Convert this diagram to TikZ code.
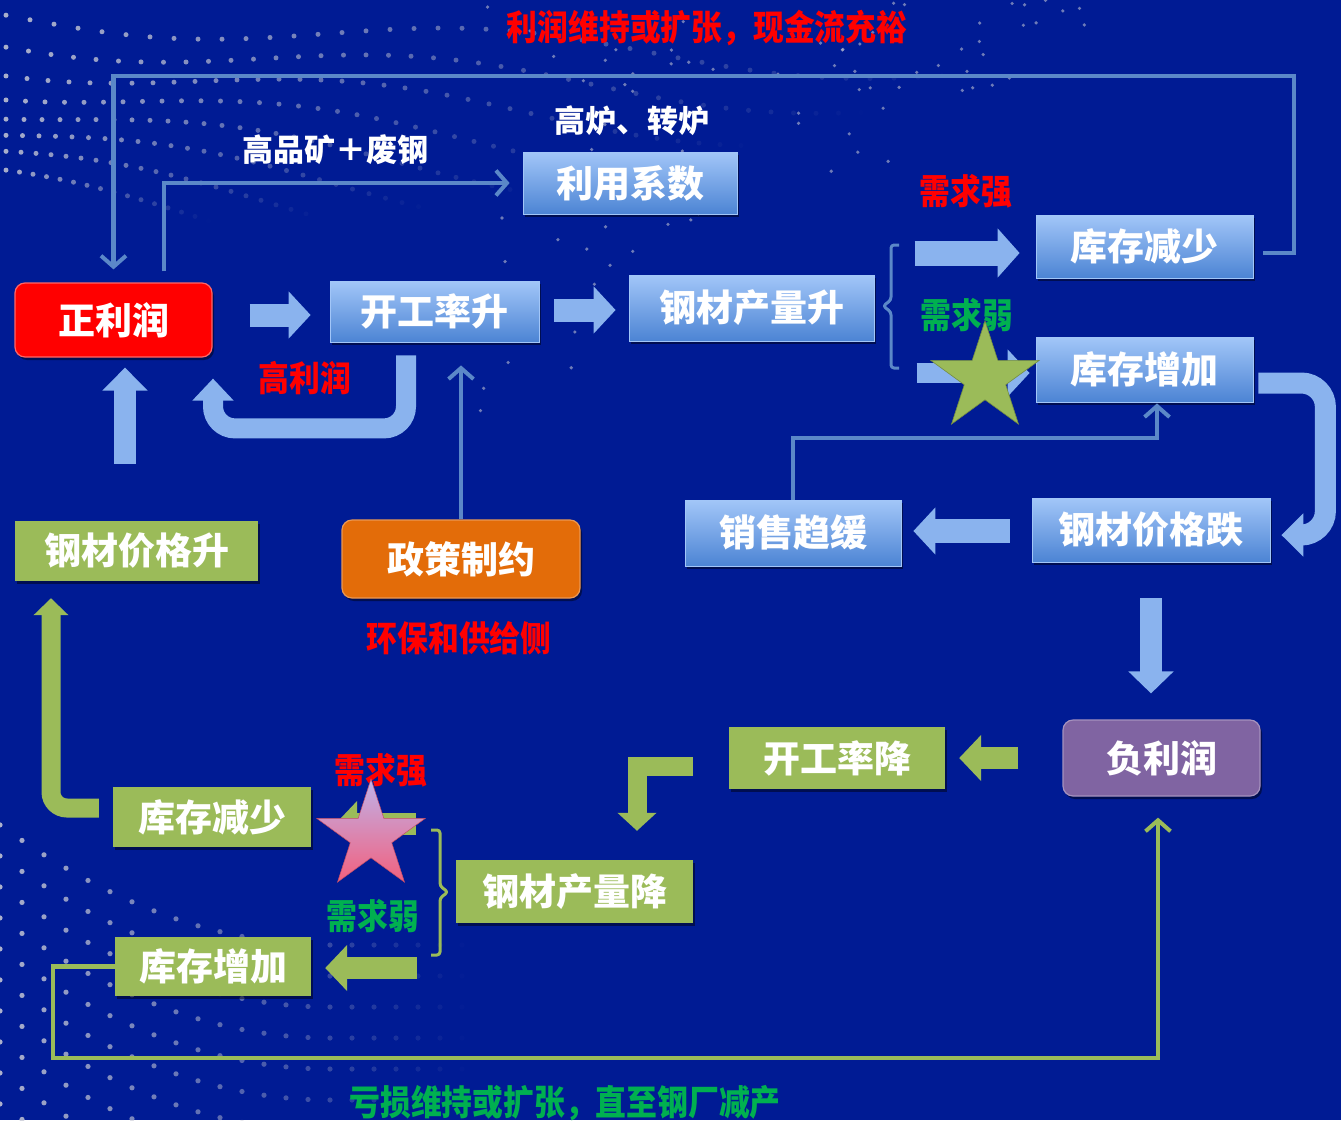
\documentclass[tikz,border=0pt]{standalone}
\usepackage{fontspec}
\setmainfont{Noto Sans CJK SC}
\usetikzlibrary{arrows.meta,shapes.geometric,calc,shadows}

\definecolor{bg}{HTML}{001B94}
\definecolor{dotc}{HTML}{C9CBD6}
\definecolor{linkblue}{HTML}{5B88C8}
\definecolor{bandblue}{HTML}{8AB3EE}
\definecolor{boxtop}{HTML}{A2C6F8}
\definecolor{boxbot}{HTML}{4C84D4}
\definecolor{olive}{HTML}{9BBB59}
\definecolor{posred}{HTML}{FF0000}
\definecolor{negpurple}{HTML}{8064A2}
\definecolor{policy}{HTML}{E36C09}
\definecolor{labred}{HTML}{FF0000}
\definecolor{labgreen}{HTML}{00B050}
\definecolor{startop}{HTML}{BFB2EA}
\definecolor{starbot}{HTML}{F2607E}

% condensed label text
\newcommand{\narrowtext}[1]{\scalebox{0.88}[1]{#1}}

\tikzset{
  box/.style={inner sep=0pt, text=white, font=\fontsize{37}{39}\selectfont\bfseries,
    drop shadow={shadow xshift=2pt, shadow yshift=-3pt, fill=black, opacity=0.45}},
  bluebox/.style={box, top color=boxtop, bottom color=boxbot, draw=boxtop, line width=0.8pt},
  greenbox/.style={box, fill=olive},
  roundbox/.style={box, rounded corners=10pt, line width=1.2pt},
  lab/.style={inner sep=0pt, font=\fontsize{35}{37}\selectfont\bfseries},
  whitelab/.style={inner sep=0pt, font=\fontsize{31}{33}\selectfont\bfseries, text=white},
  thinlink/.style={draw=linkblue, line width=4.5pt,
    -{Straight Barb[length=11pt,width=25pt,line width=4pt]}},
  greenlink/.style={draw=olive, line width=4.5pt,
    -{Straight Barb[length=11pt,width=25pt,line width=4pt]}},
  bluebar/.style={draw=bandblue, line width=23pt, -{Triangle[length=22pt,width=46pt]}},
  bluebend/.style={draw=bandblue, line width=21pt, rounded corners=24pt,
    -{Triangle[length=22pt,width=42pt]}},
  greenbar/.style={draw=olive, line width=22pt, -{Triangle[length=22pt,width=45pt]}},
  greenbend/.style={draw=olive, line width=19pt, -{Triangle[length=18pt,width=38pt]}},
  bracketline/.style={line width=3pt, line join=round, rounded corners=3pt},
  pentastar/.style={star, star points=5, star point ratio=2.618, minimum size=114pt, inner sep=0pt}
}

\begin{document}
\begin{tikzpicture}[x=1pt,y=-1pt]
\fill[bg] (0,0) rectangle (1341,1120);
\useasboundingbox (0,0) rectangle (1341,1120);

% ---- decorative dot fields ----
\begin{scope}
\clip (0,0) rectangle (1341,1120);
\foreach \i in {0,...,7}{
  \foreach \j in {0,...,44}{
    \pgfmathsetmacro{\xx}{6+\j*(24-1.5*\i)}
    \pgfmathsetmacro{\yy}{14+24*\i+14*sin(0.55*\xx+35*\i)+0.06*\xx*(1+0.3*\i)}
    \pgfmathsetmacro{\op}{max(0,0.85*(1-\xx/(980-110*\i)))}
    \fill[dotc, opacity=\op] (\xx,\yy) circle[radius=2.5];
  }
}
\pgfmathsetseed{11}
\foreach \k in {1,...,80}{
  \pgfmathsetmacro{\xx}{480+rnd*620}
  \pgfmathsetmacro{\yy}{rnd*470*max(0.05,1-(\xx-480)/640)}
  \fill[dotc, opacity=0.55] (\xx,\yy) circle[radius=1.8];
}
\foreach \k in {0,...,9}{
  \foreach \j in {0,...,22}{
    \pgfmathsetmacro{\xx}{\j*22}
    \pgfmathsetmacro{\uu}{0.0332*max(0,330-\xx)}
    \pgfmathsetmacro{\yy}{945+31*\k-\uu*\uu}
    \pgfmathsetmacro{\op}{max(0,0.85*(1-\xx/470))}
    \fill[dotc, opacity=\op] (\xx,\yy) circle[radius=2.6];
  }
}
\end{scope}

% ---- boxes ----
\node[roundbox, fill=posred, draw=posred!60!white, minimum width=197pt, minimum height=74pt] (zlr) at (113.5,320) {正利润};
\node[bluebox, minimum width=209pt, minimum height=61pt] (kgl) at (434.5,311.5) {开工率升};
\node[bluebox, minimum width=245pt, minimum height=66pt] (gccl) at (751.5,308) {钢材产量升};
\node[bluebox, minimum width=214pt, minimum height=62pt] (lyxs) at (630,183) {利用系数};
\node[bluebox, minimum width=217pt, minimum height=63pt] (kcjs1) at (1144.5,246.5) {库存减少};
\node[bluebox, minimum width=217pt, minimum height=65pt] (kczj1) at (1144.5,369.5) {库存增加};
\node[bluebox, minimum width=216pt, minimum height=66pt] (xsqh) at (793,533) {销售趋缓};
\node[bluebox, minimum width=238pt, minimum height=64pt] (gcjd) at (1151,530) {钢材价格跌};
\node[roundbox, fill=negpurple, draw=negpurple!70!white, minimum width=197pt, minimum height=76pt] (flr) at (1161.5,758) {负利润};
\node[greenbox, minimum width=216pt, minimum height=62pt] (kgljiang) at (837,758) {开工率降};
\node[greenbox, minimum width=237pt, minimum height=63pt] (gccljiang) at (574.5,891.5) {钢材产量降};
\node[greenbox, minimum width=198pt, minimum height=60pt] (kcjs2) at (212,817) {库存减少};
\node[greenbox, minimum width=196pt, minimum height=59pt] (kczj2) at (213,966.5) {库存增加};
\node[greenbox, minimum width=243pt, minimum height=60pt] (gcjs) at (136.5,551) {钢材价格升};
\node[roundbox, fill=policy, draw=policy!70!white, minimum width=238pt, minimum height=78pt] (zc) at (461,559) {政策制约};

% ---- labels ----
\node[lab, text=labred] (toplab) at (707,28) {\narrowtext{利润维持或扩张，现金流充裕}};
\node[whitelab] (ore) at (335,150) {高品矿＋废钢};
\node[whitelab] (furnace) at (632,121) {高炉、转炉};
\node[lab, text=labred] (strong1) at (966,191) {\narrowtext{需求强}};
\node[lab, text=labgreen] (weak1) at (967,315) {\narrowtext{需求弱}};
\node[lab, text=labred] (highp) at (305,378) {\narrowtext{高利润}};
\node[lab, text=labred] (envir) at (459,638) {\narrowtext{环保和供给侧}};
\node[lab, text=labred] (strong2) at (381,770) {\narrowtext{需求强}};
\node[lab, text=labgreen] (weak2) at (373,916) {\narrowtext{需求弱}};
\node[lab, text=labgreen] (botlab) at (565,1103) {\narrowtext{亏损维持或扩张，直至钢厂减产}};

% ---- thin connectors ----
\coordinate (loopR) at (1294,76);
\draw[thinlink, shorten >=13pt] ([shift={(10,6.5)}]kcjs1.east) -| (loopR) -| (zlr.north);
\draw[thinlink, shorten <=11pt, shorten >=13pt] ([xshift=50.5pt]zlr.north) |- (lyxs.west);
\draw[thinlink, shorten >=23pt] (zc.north) -- (zc.north |- kgl.south);
\coordinate (salesbend) at (1157,438);
\draw[thinlink, shorten >=1pt] (xsqh.north) |- (salesbend) -- (salesbend |- kczj1.south);
\coordinate (lossL) at (53,1058);
\draw[greenlink, shorten >=21pt] (kczj2.west) -| (lossL) -| ([xshift=-3.5pt]flr.south);

% ---- brackets ----
\draw[bracketline, linkblue] (899,245) -- (891,245) -- (891,300) -- (883,306) -- (891,312) -- (891,368) -- (899,368);
\draw[bracketline, olive] (431,830) -- (440,830) -- (440,886) -- (448,892) -- (440,898) -- (440,955) -- (431,955);

% ---- block arrows, upper cycle ----
\draw[bluebar] ([shift={(37,-5)}]zlr.east) -- ([shift={(-19,3.5)}]kgl.west);
\draw[bluebar] ([shift={(15,-1.5)}]kgl.east) -- ([shift={(-13,2)}]gccl.west);
\draw[bluebar, line width=25pt, -{Triangle[length=22pt,width=48pt]}] ([shift={(-121,6.5)}]kcjs1.west) -- ([shift={(-16,6.5)}]kcjs1.west);
\draw[bluebar, line width=20pt] ([shift={(-119,3.5)}]kczj1.west) -- ([shift={(-6,3.5)}]kczj1.west);
\draw[bluebend] ([shift={(5,13.5)}]kczj1.east) -- ++(67,0) |- ([shift={(11,5)}]gcjd.east);
\draw[bluebar, line width=24pt] ([shift={(-22,1)}]gcjd.west) -- ([shift={(12,-2)}]xsqh.east);
\draw[bluebar, line width=22pt, -{Triangle[length=22pt,width=44pt]}] ([shift={(0,36)}]gcjd.south) -- ([shift={(-10.5,-26)}]flr.north);
\draw[bluebar, line width=22pt, -{Triangle[length=23pt,width=44pt]}] ([shift={(11.5,106)}]zlr.south) -- ([shift={(11.5,10)}]zlr.south);
\draw[bluebend, line width=20pt, rounded corners=22pt, -{Triangle[length=22pt,width=40pt]}] ([shift={(-28.5,13)}]kgl.south) -- ++(0,73) -| ([shift={(99.5,21)}]zlr.south);

% ---- block arrows, lower cycle ----
\draw[greenbar] ([shift={(-44,0)}]flr.west) -- ([shift={(14,0)}]kgljiang.east);
\draw[greenbend, line join=miter] ([shift={(-36,8)}]kgljiang.west) -| ([shift={(62.5,-29)}]gccljiang.north);
\draw[greenbar] ([shift={(105,7)}]kcjs2.east) -- ([shift={(24,7)}]kcjs2.east);
\draw[greenbar] ([shift={(106,1.5)}]kczj2.east) -- ([shift={(14,1.5)}]kczj2.east);
\draw[greenbend, rounded corners=16pt, -{Triangle[length=17pt,width=34pt]}] ([shift={(-14,-9)}]kcjs2.west) -| ([shift={(-85.5,17)}]gcjs.south);

% ---- stars ----
\node[pentastar, fill=olive, draw=olive!75!black, line width=0.6pt] (star1) at (985,378) {};
\node[pentastar, top color=startop, bottom color=starbot, draw=starbot!80!black, line width=0.5pt] (star2) at (371,836) {};
\end{tikzpicture}
\end{document}
